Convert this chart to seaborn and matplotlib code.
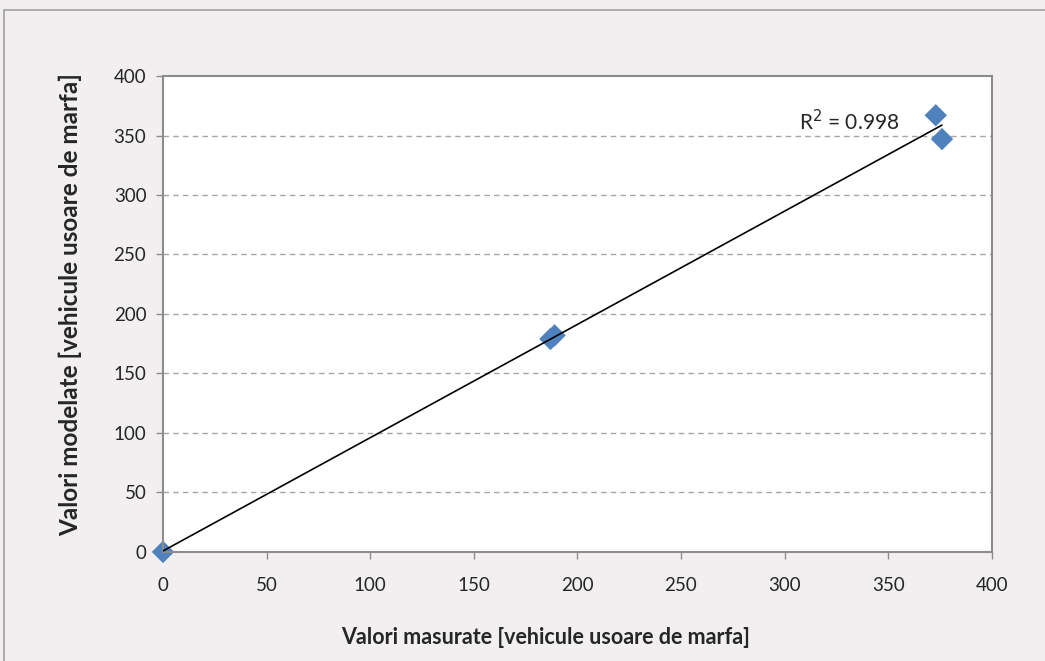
import numpy as np
import pandas as pd
import seaborn as sns
import matplotlib.pyplot as plt
from matplotlib.patches import Rectangle

# measured vs modelled light goods vehicles
masurate = [0, 187, 189, 373, 376]
modelate = [0, 179, 182, 367, 347]
r2_text = "R$^2$ = 0.998"

x_ticks = [0, 50, 100, 150, 200, 250, 300, 350, 400]
y_ticks = [0, 50, 100, 150, 200, 250, 300, 350, 400]

df = pd.DataFrame({"masurate": masurate, "modelate": modelate})

sns.set_style("white")
plt.rcParams['font.family'] = ['Lato', 'DejaVu Sans']

bg = "#f1eff0"
fig = plt.figure(figsize=(10.45, 6.61), dpi=100, facecolor=bg)
ax = fig.add_axes([0.156, 0.165, 0.793, 0.720])
ax.set_facecolor("white")

# outer chart border
fig.patches.append(Rectangle((4 / 1045, -0.1), 1.2, (651 + 66) / 661,
                             transform=fig.transFigure, fill=False,
                             edgecolor="#a0a0a0", linewidth=1.2))

# dashed gridlines
for y in y_ticks[1:-1]:
    ax.axhline(y, color="#a6a6a6", linestyle=(0, (4, 3)), linewidth=1, zorder=0)

# linear trendline
slope, intercept = np.polyfit(df["masurate"], df["modelate"], 1)
xs = np.array([0, df["masurate"].max()])
ax.plot(xs, slope * xs + intercept, color="black", linewidth=1.2, zorder=3)

sns.scatterplot(data=df, x="masurate", y="modelate", marker="D", s=130,
                color="#4f81bd", edgecolor="none", ax=ax, zorder=2, clip_on=False)

ax.text(0.767, 0.905, r2_text, transform=ax.transAxes, fontsize=15,
        ha="left", va="center")

ax.set_xlim(0, 400)
ax.set_ylim(0, 400)
ax.set_xticks(x_ticks)
ax.set_yticks(y_ticks)
ax.tick_params(axis="both", labelsize=13.5, direction="out", length=5,
               color="#8c8c8c", width=1, bottom=True, left=True)
ax.tick_params(axis="x", pad=13)
ax.tick_params(axis="y", pad=7)
for sp in ax.spines.values():
    sp.set_color("#8c8c8c")
    sp.set_linewidth(1.5)

ax.set_xlabel("Valori masurate [vehicule usoare de marfa]", fontsize=15.5,
              fontweight="bold", va="center")
ax.set_ylabel("Valori modelate [vehicule usoare de marfa]", fontsize=17.5,
              fontweight="bold", va="center")
ax.xaxis.set_label_coords(0.462, -0.179)
ax.yaxis.set_label_coords(-0.112, 0.519)

fig.savefig("out.png", dpi=100, facecolor=bg)
